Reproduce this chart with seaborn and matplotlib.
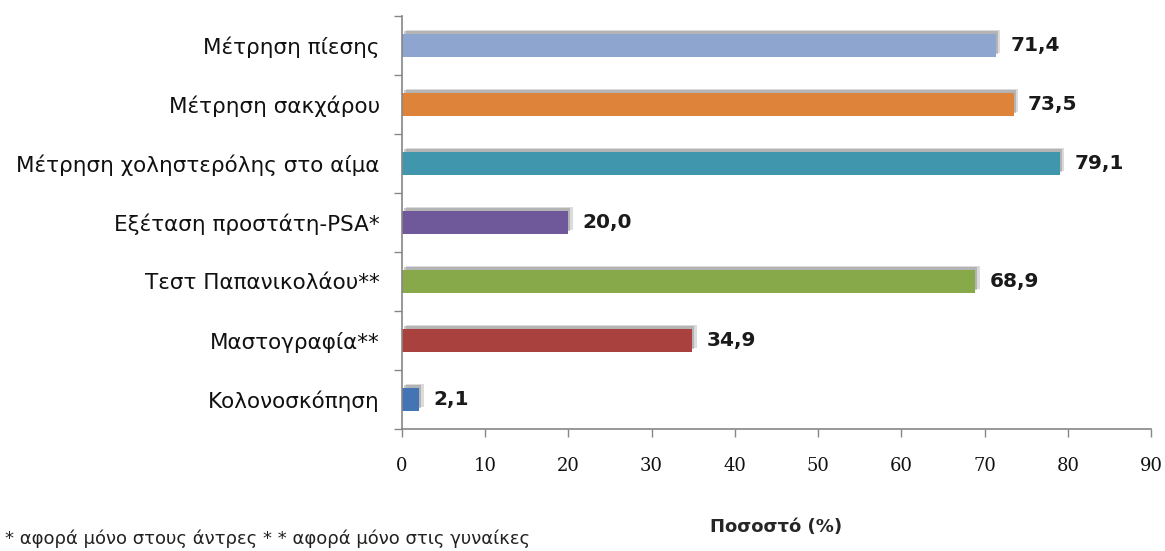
import matplotlib
matplotlib.use("Agg")
import matplotlib.pyplot as plt
import matplotlib.patheffects as pe
import seaborn as sns
import pandas as pd

categories = [
    "Μέτρηση πίεσης",
    "Μέτρηση σακχάρου",
    "Μέτρηση χοληστερόλης στο αίμα",
    "Εξέταση προστάτη-PSA*",
    "Τεστ Παπανικολάου**",
    "Μαστογραφία**",
    "Κολονοσκόπηση",
]
values = [71.4, 73.5, 79.1, 20.0, 68.9, 34.9, 2.1]
bar_colors = ["#8EA5D0", "#DD833A", "#3F96AD", "#70599A", "#88A94A", "#A9423F", "#4374B4"]
x_ticks = [0, 10, 20, 30, 40, 50, 60, 70, 80, 90]
x_label = "Ποσοστό (%)"
footnote = "* αφορά μόνο στους άντρες * * αφορά μόνο στις γυναίκες"

sns.set_style("white")
plt.rcParams["font.family"] = ["DejaVu Sans"]

df = pd.DataFrame({"cat": categories, "val": values})

fig = plt.figure(figsize=(11.65, 5.51), dpi=100)
ax = fig.add_axes([0.345, 0.2214, 0.643, 0.7496])

sns.barplot(data=df, x="val", y="cat", hue="cat", palette=bar_colors,
            legend=False, width=0.39, ax=ax, saturation=1, edgecolor="none")

# soft grey drop shadow behind each bar
for bar in ax.patches:
    bar.set_path_effects([
        pe.SimplePatchShadow(offset=(3, 3), shadow_rgbFace="#9a9a9a", alpha=0.35),
        pe.SimplePatchShadow(offset=(1.5, 2), shadow_rgbFace="#7a7a7a", alpha=0.4),
        pe.Normal(),
    ])

for i, v in enumerate(values):
    ax.text(v + 1.7, i, f"{v:.1f}".replace(".", ","), va="center", ha="left",
            fontsize=14.5, fontweight="bold", color="#1a1a1a")

ax.set_xlim(0, 90)
ax.set_ylim(6.5, -0.5)
ax.set_xticks(x_ticks)
ax.set_xticklabels([str(t) for t in x_ticks], fontsize=13, family="DejaVu Serif")
ax.set_yticks(range(len(categories)))
ax.set_yticklabels(categories, fontsize=15.5, color="#111111")
ax.set_yticks([i - 0.5 for i in range(len(categories) + 1)], minor=True)

ax.tick_params(axis="y", which="major", left=False, length=0, pad=16)
ax.tick_params(axis="y", which="minor", left=True, length=6, width=1,
               color="#868686", direction="out")
ax.tick_params(axis="x", which="major", bottom=True, length=6, width=1,
               color="#868686", direction="out", pad=14, labelcolor="#111111")

for side in ["top", "right"]:
    ax.spines[side].set_visible(False)
for side in ["left", "bottom"]:
    ax.spines[side].set_color("#868686")
    ax.spines[side].set_linewidth(1.2)

ax.set_xlabel(x_label, fontsize=13, fontweight="bold", labelpad=31)
ax.set_ylabel("")

fig.text(0.004, 0.005, footnote, fontsize=13, color="#222222", ha="left", va="bottom")

fig.savefig("out.png", dpi=100)
